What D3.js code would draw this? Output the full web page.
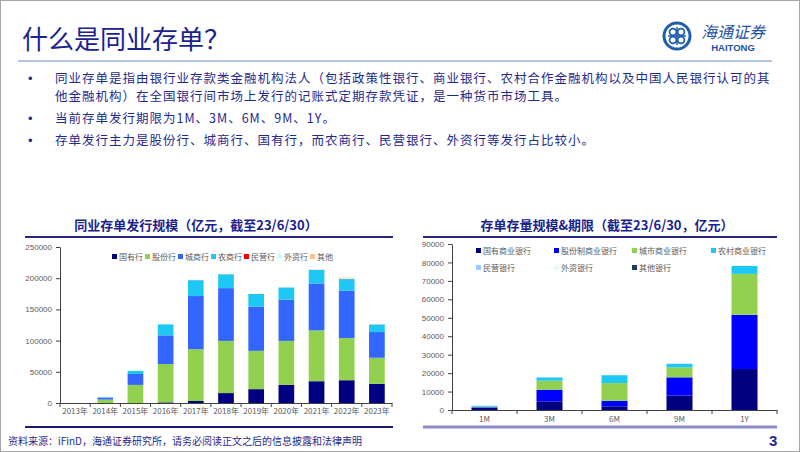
<!DOCTYPE html>
<html><head>
<meta charset="utf-8">
<title>什么是同业存单？</title>
<script src="https://d3js.org/d3.v7.min.js"></script>
<style>
  body { margin: 0; background: #fff; }
  svg { display: block; }
  text { font-family: "Liberation Sans", "Noto Sans CJK SC", sans-serif; }
  .cjk { font-family: "Noto Sans CJK SC", "Liberation Sans", sans-serif; }
  .tick text { fill: #595959; font-size: 8px; }
  .tick line, .domain { stroke: #404040; }
</style>
</head>
<body>
<div id="slide"></div>
<script>

// ---- left chart: yearly issuance (亿元)
var years = ["2013年","2014年","2015年","2016年","2017年","2018年","2019年","2020年","2021年","2022年","2023年"];
var issueKeys = ["国有行","股份行","城商行","农商行","民营行","外资行","其他"];
var issueGuoyou   = [0, 0, 0, 1000, 3200, 15900, 22200, 29100, 34900, 36500, 30700];
var issueGufen    = [0, 5500, 29000, 61400, 83000, 83600, 61400, 70400, 81500, 67700, 41800];
var issueCheng    = [0, 3000, 17500, 46000, 85200, 84600, 70900, 66100, 75100, 75700, 41200];
var issueNong     = [0, 500, 5000, 17600, 25400, 22200, 20100, 19600, 21700, 18500, 12200];
var issueMinying  = [0, 0, 0, 0, 100, 100, 100, 100, 200, 300, 100];
var issueWaizi    = [0, 0, 0, 0, 500, 400, 400, 500, 700, 1500, 400];
var issueQita     = [0, 0, 0, 0, 100, 0, 100, 100, 100, 800, 100];
var issueTicks = [0, 50000, 100000, 150000, 200000, 250000];

// ---- right chart: outstanding by term (亿元)
var terms = ["1M","3M","6M","9M","1Y"];
var stockKeys = ["国有商业银行","股份制商业银行","城市商业银行","农村商业银行","民营银行","外资银行","其他银行"];
var stockGuoyou  = [1300, 4700, 2000, 7800, 22200];
var stockGufen   = [200, 6300, 3000, 9900, 29400];
var stockCheng   = [300, 4900, 9600, 5400, 22200];
var stockNong    = [500, 1800, 4300, 2000, 4300];
var stockMinying = [0, 0, 0, 0, 0];
var stockWaizi   = [50, 100, 100, 100, 300];
var stockQita    = [0, 0, 0, 0, 0];
var stockTicks = [0, 10000, 20000, 30000, 40000, 50000, 60000, 70000, 80000, 90000];

var bullets = [
  ["同业存单是指由银行业存款类金融机构法人（包括政策性银行、商业银行、农村合作金融机构以及中国人民银行认可的其",
   "他金融机构）在全国银行间市场上发行的记账式定期存款凭证，是一种货币市场工具。"],
  ["当前存单发行期限为1M、3M、6M、9M、1Y。"],
  ["存单发行主力是股份行、城商行、国有行，而农商行、民营银行、外资行等发行占比较小。"]
];

var navy = "#1f2a8c";

var svg = d3.select("#slide").append("svg")
  .attr("width", 802)
  .attr("height", 452);

svg.append("rect")
  .attr("x", 0.5).attr("y", 0.5)
  .attr("width", 799).attr("height", 451)
  .attr("fill", "#fff")
  .attr("stroke", "#a6a6a6");

// title
svg.append("text")
  .attr("class", "cjk")
  .attr("x", 22).attr("y", 49)
  .attr("fill", "#1a2290")
  .style("font-size", "26px")
  .text("什么是同业存单？");

svg.append("line")
  .attr("x1", 18).attr("x2", 772)
  .attr("y1", 61).attr("y2", 61)
  .attr("stroke", "#6f8db5").attr("stroke-width", 1);

// logo
var logo = svg.append("g").attr("transform", "translate(677,36)");
logo.append("circle").attr("r", 13).attr("fill", "none").attr("stroke", "#1f5fb0").attr("stroke-width", 3);
[[-4,-4],[4,-4],[-4,4],[4,4]].forEach(function(p) {
  logo.append("circle").attr("cx", p[0]).attr("cy", p[1]).attr("r", 3.4)
    .attr("fill", "none").attr("stroke", "#1f5fb0").attr("stroke-width", 1.8);
});
logo.append("line").attr("x1", -9).attr("x2", 9).attr("stroke", "#1f5fb0").attr("stroke-width", 1.5);
logo.append("line").attr("y1", -9).attr("y2", 9).attr("stroke", "#1f5fb0").attr("stroke-width", 1.5);

svg.append("text")
  .attr("class", "cjk")
  .attr("x", 701).attr("y", 38)
  .attr("fill", "#1f4fa8")
  .style("font-size", "16px")
  .style("font-style", "italic")
  .text("海通证券");
svg.append("text")
  .attr("x", 733).attr("y", 51)
  .attr("text-anchor", "middle")
  .attr("fill", "#1f4fa8")
  .style("font-size", "9.5px")
  .style("font-weight", "bold")
  .text("HAITONG");

// bullets
var lineY = [[83, 101], [123], [145]];
bullets.forEach(function(lines, i) {
  svg.append("text")
    .attr("x", 28).attr("y", lineY[i][0])
    .attr("fill", navy)
    .style("font-size", "13px")
    .text("•");
  lines.forEach(function(l, j) {
    svg.append("text")
      .attr("class", "cjk")
      .attr("x", 55).attr("y", lineY[i][j])
      .attr("fill", navy)
      .style("font-size", "12.5px")
      .style("letter-spacing", "1px")
      .text(l);
  });
});

// ---------- chart titles and rules
function chartFrame(cx, x1, x2, title, bottomColor, bottomWidth) {
  svg.append("text")
    .attr("class", "cjk")
    .attr("x", cx).attr("y", 230)
    .attr("text-anchor", "middle")
    .attr("fill", "#1a2290")
    .style("font-size", "13px")
    .style("font-weight", "bold")
    .text(title);
  svg.append("line")
    .attr("x1", x1).attr("x2", x2).attr("y1", 237).attr("y2", 237)
    .attr("stroke", "#26267a").attr("stroke-width", 2);
  svg.append("line")
    .attr("x1", x1).attr("x2", x2).attr("y1", 427).attr("y2", 427)
    .attr("stroke", bottomColor).attr("stroke-width", bottomWidth);
}
chartFrame(196, 25, 393, "同业存单发行规模（亿元，截至23/6/30）", "#1a1a6e", 2);
chartFrame(607, 423, 777, "存单存量规模&期限（截至23/6/30，亿元）", "#8c8cc8", 3);

// ---------- generic stacked chart
function stacked(opt) {
  var rows = opt.cats.map(function(c, i) {
    var r = { cat: c };
    opt.keys.forEach(function(k, j) { r[k] = opt.series[j][i]; });
    return r;
  });
  var stack = d3.stack().keys(opt.keys)(rows);

  var x = d3.scaleBand()
    .domain(opt.cats)
    .range([opt.left, opt.right])
    .paddingInner(opt.pad)
    .paddingOuter(opt.pad / 2);

  var y = d3.scaleLinear()
    .domain([0, opt.ticks[opt.ticks.length - 1]])
    .range([opt.bottom, opt.top]);

  var g = svg.append("g");

  g.selectAll("g.layer")
    .data(stack)
    .enter().append("g")
      .attr("class", "layer")
      .attr("fill", function(d, i) { return opt.colors[i]; })
    .selectAll("rect")
    .data(function(d) { return d; })
    .enter().append("rect")
      .attr("x", function(d) { return x(d.data.cat); })
      .attr("width", x.bandwidth())
      .attr("y", function(d) { return y(d[1]); })
      .attr("height", function(d) { return y(d[0]) - y(d[1]); });

  // y axis
  g.append("g")
    .attr("transform", "translate(" + opt.left + ",0)")
    .call(d3.axisLeft(y).tickValues(opt.ticks).tickFormat(d3.format("d"))
      .tickSize(4).tickSizeOuter(0).tickPadding(4));

  // x axis: labels, then category boundary ticks
  var xa = g.append("g")
    .attr("transform", "translate(0," + opt.bottom + ")")
    .call(d3.axisBottom(x).tickSize(0).tickSizeOuter(0).tickPadding(opt.xPad));
  xa.selectAll(".tick text").attr("class", "cjk").style("font-size", "8px").style("fill", "#595959");
  var step = x.step();
  g.selectAll("line.bound")
    .data(d3.range(opt.cats.length + 1))
    .enter().append("line")
      .attr("class", "bound")
      .attr("x1", function(i) { return opt.left + i * step; })
      .attr("x2", function(i) { return opt.left + i * step; })
      .attr("y1", opt.bottom).attr("y2", opt.bottom + 4)
      .attr("stroke", "#404040");

  // legend
  opt.legendPos.forEach(function(p, i) {
    svg.append("rect")
      .attr("x", p[0]).attr("y", p[1] - 3)
      .attr("width", 5).attr("height", 5)
      .attr("fill", opt.colors[i]);
    svg.append("text")
      .attr("class", "cjk")
      .attr("x", p[0] + 7).attr("y", p[1] + 2.5)
      .attr("fill", "#595959")
      .style("font-size", "8px")
      .text(opt.keys[i]);
  });
}

stacked({
  cats: years,
  keys: issueKeys,
  series: [issueGuoyou, issueGufen, issueCheng, issueNong, issueMinying, issueWaizi, issueQita],
  colors: ["#000080", "#92d050", "#3366ff", "#1ec8f5", "#ff0000", "#ccffff", "#fac090"],
  ticks: issueTicks,
  left: 60, right: 392, top: 247, bottom: 403,
  pad: 0.48, xPad: 5,
  legendPos: [[112,257],[145,257],[178,257],[211,257],[244,257],[277,257],[310,257]]
});

stacked({
  cats: terms,
  keys: stockKeys,
  series: [stockGuoyou, stockGufen, stockCheng, stockNong, stockMinying, stockWaizi, stockQita],
  colors: ["#000080", "#0000ff", "#92d050", "#1ec8f5", "#99ccff", "#e6fafa", "#1f3864"],
  ticks: stockTicks,
  left: 452, right: 777, top: 244, bottom: 410,
  pad: 0.6, xPad: 6,
  legendPos: [[476,251],[554,251],[632,251],[711,251],[476,268],[554,268],[632,268]]
});

// footer
svg.append("text")
  .attr("class", "cjk")
  .attr("x", 8).attr("y", 445)
  .attr("fill", navy)
  .style("font-size", "10px")
  .text("资料来源：iFinD，海通证券研究所，请务必阅读正文之后的信息披露和法律声明");
svg.append("text")
  .attr("x", 769).attr("y", 446)
  .attr("fill", navy)
  .style("font-size", "15px")
  .style("font-weight", "bold")
  .text("3");

</script>
</body></html>
